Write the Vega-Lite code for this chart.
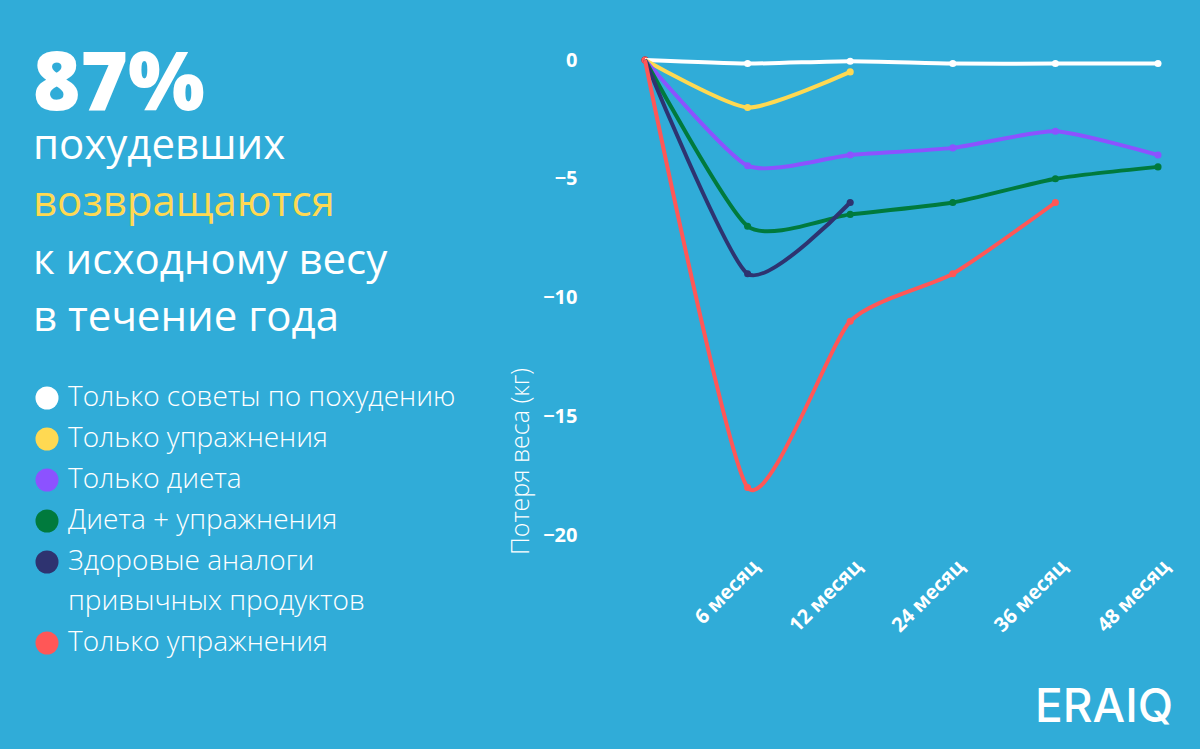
{
  "$schema": "https://vega.github.io/schema/vega-lite/v6.json",
  "background": "#30acd8",
  "padding": {"left": 33, "top": 45, "right": 28, "bottom": 18},
  "bounds": "flush",
  "spacing": 212,
  "title": {"text": "ERAIQ", "orient": "bottom", "anchor": "end", "offset": 29, "fontSize": 46, "font": "Inter", "fontWeight": 500, "color": "white", "baseline": "top"},
  "config": {
    "view": {"stroke": null},
    "axis": {"labelFont": "Open Sans", "titleFont": "Open Sans"}
  },
  "resolve": {"scale": {"color": "independent"}, "legend": {"color": "independent"}},
  "hconcat": [
    {
      "width": 400,
      "height": 370,
      "title": {"text": "87%", "anchor": "start", "orient": "top", "offset": -67, "fontSize": 81, "fontWeight": 800, "font": "Open Sans", "color": "white"},
      "data": {"values": [
        {"line": "похудевших", "n": 1, "accent": false},
        {"line": "возвращаются", "n": 2, "accent": true},
        {"line": "к исходному весу", "n": 3, "accent": false},
        {"line": "в течение года", "n": 4, "accent": false}
      ]},
      "mark": {"type": "text", "align": "left", "baseline": "alphabetic", "fontSize": 42, "font": "Open Sans", "fontWeight": 400},
      "encoding": {
        "y": {"field": "n", "type": "quantitative", "axis": null, "scale": {"domain": [-0.712, 5.71], "reverse": true, "nice": false, "zero": false}},
        "x": {"datum": 0, "type": "quantitative", "scale": {"domain": [0, 1]}, "axis": null},
        "text": {"field": "line"},
        "color": {"condition": {"test": "datum.accent", "value": "#ffd952"}, "value": "white"}
      }
    },
    {
      "width": 513,
      "height": 475,
      "data": {"values": [
        {"group": "Только советы по похудению", "period": "0", "loss": 0},
        {"group": "Только советы по похудению", "period": "6 месяц", "loss": -0.15},
        {"group": "Только советы по похудению", "period": "12 месяц", "loss": -0.05},
        {"group": "Только советы по похудению", "period": "24 месяц", "loss": -0.15},
        {"group": "Только советы по похудению", "period": "36 месяц", "loss": -0.15},
        {"group": "Только советы по похудению", "period": "48 месяц", "loss": -0.15},
        {"group": "Только упражнения", "period": "0", "loss": 0},
        {"group": "Только упражнения", "period": "6 месяц", "loss": -2},
        {"group": "Только упражнения", "period": "12 месяц", "loss": -0.5},
        {"group": "Только диета", "period": "0", "loss": 0},
        {"group": "Только диета", "period": "6 месяц", "loss": -4.45},
        {"group": "Только диета", "period": "12 месяц", "loss": -4},
        {"group": "Только диета", "period": "24 месяц", "loss": -3.7},
        {"group": "Только диета", "period": "36 месяц", "loss": -3},
        {"group": "Только диета", "period": "48 месяц", "loss": -4},
        {"group": "Диета + упражнения", "period": "0", "loss": 0},
        {"group": "Диета + упражнения", "period": "6 месяц", "loss": -7},
        {"group": "Диета + упражнения", "period": "12 месяц", "loss": -6.5},
        {"group": "Диета + упражнения", "period": "24 месяц", "loss": -6},
        {"group": "Диета + упражнения", "period": "36 месяц", "loss": -5},
        {"group": "Диета + упражнения", "period": "48 месяц", "loss": -4.5},
        {"group": "Здоровые аналоги привычных продуктов", "period": "0", "loss": 0},
        {"group": "Здоровые аналоги привычных продуктов", "period": "6 месяц", "loss": -9},
        {"group": "Здоровые аналоги привычных продуктов", "period": "12 месяц", "loss": -6},
        {"group": "Только упражнения (2)", "period": "0", "loss": 0},
        {"group": "Только упражнения (2)", "period": "6 месяц", "loss": -18},
        {"group": "Только упражнения (2)", "period": "12 месяц", "loss": -11},
        {"group": "Только упражнения (2)", "period": "24 месяц", "loss": -9},
        {"group": "Только упражнения (2)", "period": "36 месяц", "loss": -6}
      ]},
      "encoding": {
        "x": {"field": "period", "type": "ordinal", "sort": ["0", "6 месяц", "12 месяц", "24 месяц", "36 месяц", "48 месяц"], "scale": {"type": "point", "padding": 0},
          "axis": {"title": null, "labelAngle": -45, "labelAlign": "right", "labelBaseline": "middle", "labelFontSize": 20, "labelFontWeight": "bold", "labelColor": "white", "labelPadding": 28, "labelOffset": 8, "domain": false, "ticks": false, "grid": false, "labelExpr": "datum.value === '0' ? '' : datum.value"}},
        "y": {"field": "loss", "type": "quantitative", "scale": {"domain": [-20, 0], "nice": false, "zero": false},
          "axis": {"values": [0, -5, -10, -15, -20], "grid": false, "domain": false, "ticks": false, "labelFontSize": 20, "labelFontWeight": "bold", "labelColor": "white", "labelPadding": 68, "title": "Потеря веса (кг)", "titleFontSize": 25, "titleFontWeight": 300, "titleColor": "white", "titleX": -112, "titleY": 401, "titleAngle": -90, "titleAlign": "center", "titleBaseline": "bottom"}},
        "color": {"field": "group", "type": "nominal",
          "scale": {"domain": ["Только советы по похудению", "Только упражнения", "Только диета", "Диета + упражнения", "Здоровые аналоги привычных продуктов", "Только упражнения (2)"],
                    "range": ["#ffffff", "#ffd952", "#8c52ff", "#007a3d", "#2e3370", "#ff5757"]},
          "legend": {"orient": "none", "legendX": -612, "legendY": 324, "title": null, "symbolType": "circle", "symbolSize": 530, "symbolStrokeWidth": 0, "symbolOpacity": 1, "labelFontSize": 28, "labelFont": "Open Sans", "labelFontWeight": 300, "labelColor": "white", "labelLimit": 0, "labelOffset": 7, "rowPadding": 13,
            "labelExpr": "datum.value === 'Только упражнения (2)' ? 'Только упражнения' : datum.value === 'Здоровые аналоги привычных продуктов' ? ['Здоровые аналоги', 'привычных продуктов'] : datum.value",
            "encode": {"labels": {"update": {"lineHeight": {"value": 40}}}}}}
      },
      "layer": [
        {"mark": {"type": "point", "filled": true, "size": 50, "opacity": 1}},
        {"mark": {"type": "line", "interpolate": "cardinal", "tension": 0.4, "strokeWidth": 4}}
      ]
    }
  ]
}
